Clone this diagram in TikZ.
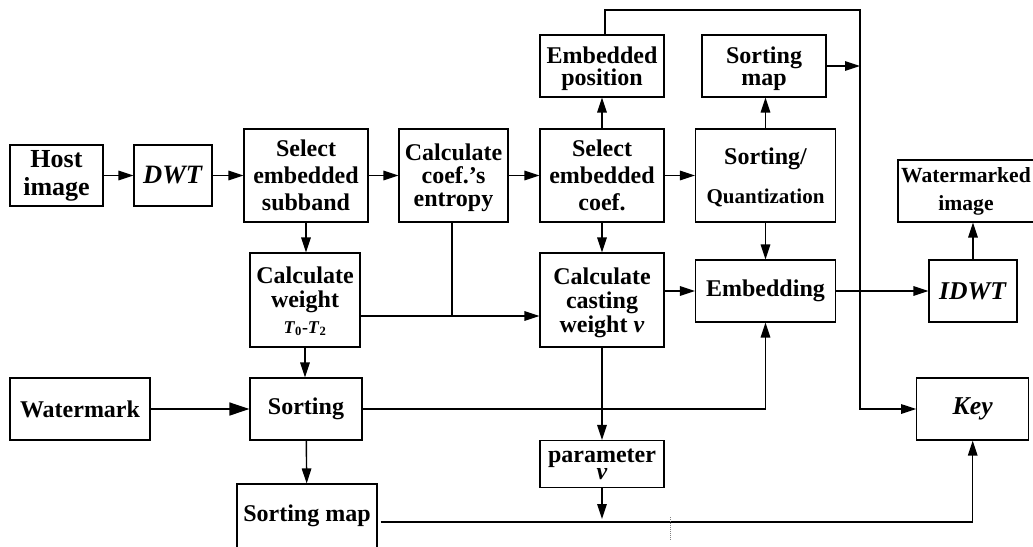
\documentclass[tikz,border=0pt]{standalone}
\usepackage{fontspec}
\setmainfont{Liberation Serif}
\usetikzlibrary{arrows.meta, positioning, calc}

\begin{document}
\begin{tikzpicture}[
    x=1pt, y=-1pt,
    fs/.style 2 args={font=\fontsize{#1}{#2}\selectfont\bfseries},
    box/.style={draw, line width=1.1pt, align=center, inner sep=0pt, fs={24}{27}},
    arr/.style={-{Triangle[length=15pt, width=9.5pt]}, line width=1.4pt},
    bigarr/.style={-{Triangle[length=20pt, width=13pt]}, line width=1.4pt},
    wire/.style={line width=1.4pt}
  ]
    \useasboundingbox (0,0) rectangle (1033,546);

    %% ── row 1: transform and selection ──
    \node[box, minimum width=93pt, minimum height=61pt, fs={26}{28}] (host) at (56.5,175.5) {Host\\image};
    \node[box, minimum width=78pt, minimum height=61pt, fs={26.5}{28}] (dwt) at (173,175.5) {\textit{DWT}};
    \node[box, minimum width=124pt, minimum height=93pt] (selsub) at (306,175.5) {Select\\embedded\\subband};
    \node[box, minimum width=109pt, minimum height=93pt, fs={24}{23}, text depth=-3pt] (entropy) at (453.5,175.5) {Calculate\\coef.'s\\entropy};
    \node[box, minimum width=124pt, minimum height=93pt] (selcoef) at (602,175.5) {Select\\embedded\\coef.};
    \node[box, minimum width=140pt, minimum height=93pt, text depth=-6pt] (sortq) at (765.5,175.5) {Sorting/\\[12pt]{\fontsize{21}{22}\selectfont Quantization}};

    %% ── top row ──
    \node[box, minimum width=124pt, minimum height=62pt, fs={24}{21.5}, text depth=-3pt] (embpos) at (602,66) {Embedded\\position};
    \node[box, minimum width=124pt, minimum height=62pt, fs={24}{21.5}, text depth=-3pt] (sortmap1) at (764,66) {Sorting\\map};
    \node[box, minimum width=136pt, minimum height=62pt, fs={21.6}{28}] (wmimg) at (966,191) {Watermarked\\image};

    %% ── row 2: weights and embedding ──
    \node[box, minimum width=110pt, minimum height=94pt, fs={24}{24}, text depth=-10pt] (calcw) at (305,300)
      {Calculate\\weight\\[2pt]{\fontsize{18}{18}\selectfont\textit{T}\textsubscript{0}-\textit{T}\textsubscript{2}}};
    \node[box, minimum width=124pt, minimum height=94pt, fs={24}{24}, text depth=-5pt] (cast) at (602,300) {Calculate\\casting\\weight \textit{v}};
    \node[box, minimum width=140pt, minimum height=62pt] (embed) at (765.5,291) {Embedding};
    \node[box, minimum width=88pt, minimum height=62pt, fs={25.6}{28}] (idwt) at (973,291) {\textit{IDWT}};

    %% ── row 3: watermark and key ──
    \node[box, minimum width=140pt, minimum height=62pt] (wmark) at (80,409) {Watermark};
    \node[box, minimum width=112pt, minimum height=62pt] (sorting) at (306,409) {Sorting};
    \node[box, minimum width=112pt, minimum height=62pt, fs={25.7}{28}] (key) at (972.7,409) {\textit{Key}};
    \node[box, minimum width=124pt, minimum height=47pt, fs={24}{17.5}, text depth=-6pt] (param) at (602,464) {parameter\\\textit{v}};
    \node[box, minimum width=140pt, minimum height=64pt] (sortmap2) at (307,516) {Sorting map};

    %% ═══════ ARROWS ═══════
    \draw[arr] (host) -- (dwt);
    \draw[arr] (dwt) -- (selsub);
    \draw[arr] (selsub) -- (entropy);
    \draw[arr] (entropy) -- (selcoef);
    \draw[arr] (selcoef) -- (sortq);
    \draw[arr] (selcoef) -- (embpos);
    \draw[arr] (sortq.north) -- (sortq.north |- sortmap1.south);
    \draw[arr] (selsub.south) -- (selsub.south |- calcw.north);
    \draw[arr] (calcw.south) -- (calcw.south |- sorting.north);
    \draw[arr] (sorting) -- (sortmap2);
    \draw[bigarr] (wmark) -- (sorting);
    \draw[arr] (selcoef) -- (cast);
    \draw[arr] (sortq) -- (embed);
    \draw[arr] (cast.east |- embed) -- (embed);
    \draw[arr] (embed) -- (idwt);
    \draw[arr] (idwt.north) -- (idwt.north |- wmimg.south);
    \draw[arr] (sorting.east) -| (embed.south);
    \draw[arr] (cast) -- (param);

    %% entropy and weight join before casting weight
    \coordinate (junc) at (452,316);
    \draw[wire] (entropy.south -| junc) -- (junc);
    \draw[arr] (calcw.east |- junc) -- (cast.west |- junc);

    %% key channel on the right
    \coordinate (topy) at (860,10);
    \draw[arr] ([xshift=3pt]embpos.north) |- (topy) |- (key.west);
    \draw[arr] (sortmap1.east) -- (sortmap1.east -| topy);

    %% bottom channel to the key
    \coordinate (pend) at (602,519);
    \coordinate (bot) at (972.7,522);
    \draw[arr] (param) -- (pend);
    \draw[arr] ([xshift=3pt]sortmap2.east |- bot) -| (key.south);
    \draw[gray, densely dotted, line width=1pt] (670.6,517) -- (670.6,540);

\end{tikzpicture}
\end{document}
